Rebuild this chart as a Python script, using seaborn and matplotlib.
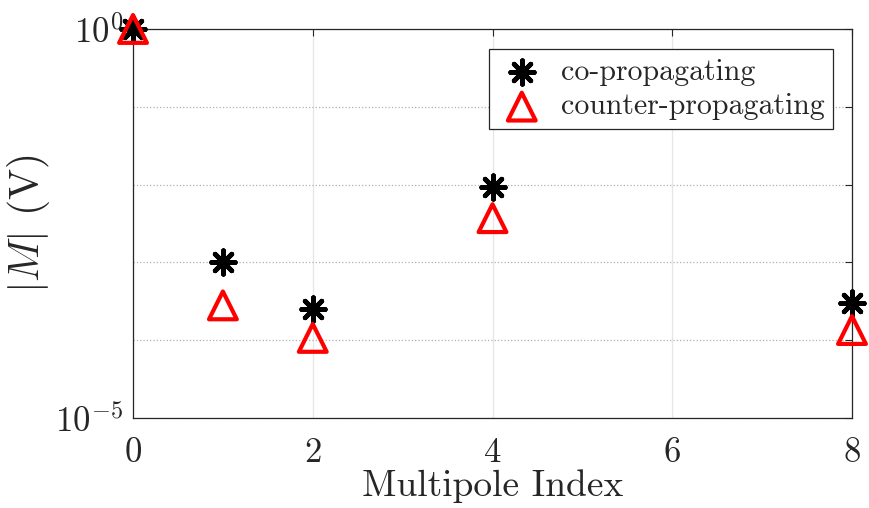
import numpy as np
import pandas as pd
import matplotlib
matplotlib.use("Agg")
import matplotlib.pyplot as plt
import seaborn as sns
from matplotlib.ticker import FixedLocator, FuncFormatter, NullLocator

# ---------------------------
# Data
# ---------------------------
multipole_index = [0, 1, 2, 4, 8]
co_propagating = [1.0, 1.0e-3, 2.5e-4, 9.3e-3, 3.0e-4]
counter_propagating = [1.0, 2.8e-4, 1.07e-4, 3.7e-3, 1.35e-4]
series_labels = ["co-propagating", "counter-propagating"]

# ---------------------------
# Style
# ---------------------------
sns.set_style("white")
plt.rcParams["font.family"] = ["cmr10", "DejaVu Serif"]
plt.rcParams["mathtext.fontset"] = "cm"
plt.rcParams["axes.formatter.use_mathtext"] = True
plt.rcParams["axes.unicode_minus"] = True

text_col = "#262626"

fig = plt.figure(figsize=(8.7, 5.08), dpi=100)
ax = fig.add_axes([0.1529, 0.1772, 0.8264, 0.7658])

df = pd.DataFrame({
    "x": multipole_index * 2,
    "M": co_propagating + counter_propagating,
    "series": [series_labels[0]] * 5 + [series_labels[1]] * 5,
})

ax.set_yscale("log")
ax.set_xlim(0, 8)
ax.set_ylim(1e-5, 1e0)

# co-propagating: 8-arm asterisk
sns.scatterplot(data=df[df["series"] == series_labels[0]], x="x", y="M",
                marker=(8, 2, 0), s=17 ** 2, color="black", linewidth=3.4,
                label=series_labels[0], ax=ax, clip_on=False, zorder=4)
# counter-propagating: open red triangle
sns.scatterplot(data=df[df["series"] == series_labels[1]], x="x", y="M",
                marker="^", s=20 ** 2, facecolor="none", edgecolor="red",
                linewidth=3.0, label=series_labels[1], ax=ax, clip_on=False,
                zorder=5)

# Axes formatting
ax.xaxis.set_major_locator(FixedLocator([0, 2, 4, 6, 8]))
ax.yaxis.set_major_locator(FixedLocator([1e-5, 1e-4, 1e-3, 1e-2, 1e-1, 1e0]))
ax.yaxis.set_minor_locator(NullLocator())
ax.yaxis.set_major_formatter(FuncFormatter(
    lambda v, p: r"$10^{0}$" if np.isclose(v, 1) else
    (r"$10^{-5}$" if np.isclose(v, 1e-5) else "")))

ax.tick_params(which="both", direction="in", top=True, right=True,
               length=5, width=0.8, colors=text_col, labelsize=25)
ax.tick_params(axis="x", pad=14)
ax.tick_params(axis="y", pad=7)
ax.xaxis.grid(True, color="#e6e6e6", linestyle="-", linewidth=0.9)
ax.yaxis.grid(True, color="#b0b0b0", linestyle=":", linewidth=0.9)
ax.set_axisbelow(True)

for sp in ax.spines.values():
    sp.set_visible(True)
    sp.set_color(text_col)
    sp.set_linewidth(0.9)

ax.set_xlabel("Multipole Index", fontsize=27, color=text_col, labelpad=0)
ax.set_ylabel(r"$|M|$ (V)", fontsize=30, color=text_col, labelpad=2)

leg = ax.legend(loc="upper right", bbox_to_anchor=(0.974, 0.948), fontsize=21.5,
                frameon=True, fancybox=False, framealpha=1, edgecolor=text_col,
                borderpad=0.3, handletextpad=0.5, labelspacing=0.25,
                borderaxespad=0.0, handlelength=1.6)
leg.get_frame().set_linewidth(0.9)
for t in leg.get_texts():
    t.set_color(text_col)

fig.savefig("out.png", dpi=100)
